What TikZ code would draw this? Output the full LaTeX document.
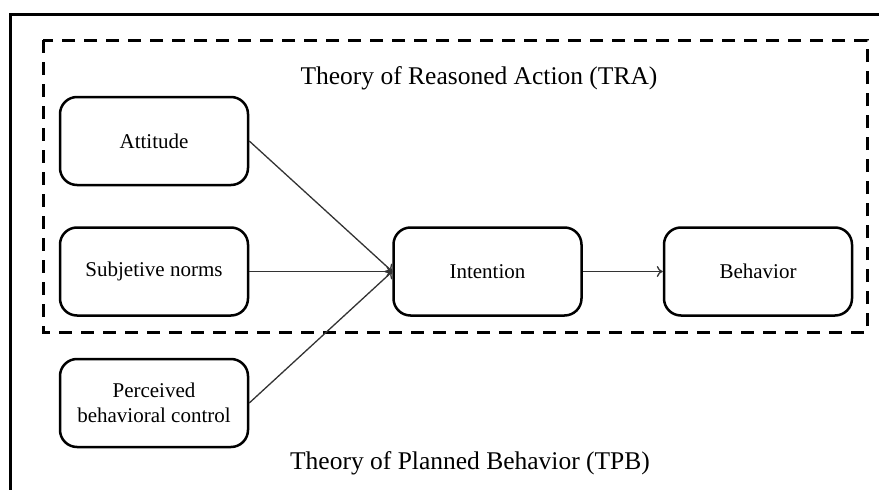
\documentclass[tikz,border=0pt]{standalone}
\usepackage{fontspec}
\setmainfont{Liberation Serif}
\usepackage{tikz}
\usetikzlibrary{arrows.meta}

\begin{document}
\begin{tikzpicture}[x=1pt,y=-1pt,>={To[length=6pt,width=11pt]}]
\tikzset{box/.style={draw,rounded corners=17pt,line width=2.5pt,minimum width=188pt,minimum height=88pt,align=center,font=\fontsize{21}{25}\selectfont}}
\tikzset{lbl/.style={font=\fontsize{25.5}{30}\selectfont}}
\useasboundingbox (0,0) rectangle (879,490);

% outer frame (TPB), cut by the page
\draw[line width=3pt] (10,495) -- (10,14) -- (885,14);
% dashed frame (TRA)
\draw[line width=3pt,dash pattern=on 13pt off 9pt] (43,40) rectangle (867,332);

\path (154,141) node[box] (att) {Attitude};
\path (154,271.5) node[box] (sn) {Subjetive norms};
\path (154,403) node[box] (pbc) {Perceived\\behavioral control};
\path (487.5,271.5) node[box] (int) {Intention};
\path (758,271.5) node[box] (beh) {Behavior};

\draw[->,line width=1.3pt,black!80] (att.east) -- (int.west);
\draw[->,line width=1.3pt,black!80] (sn) -- (int.west);
\draw[->,line width=1.3pt,black!80] (pbc.east) -- (int.west);
\draw[->,line width=1.3pt,black!80] (int) -- (beh);

\node[lbl] (tra) at (479,78) {Theory of Reasoned Action (TRA)};
\node[lbl] (tpb) at (470,463) {Theory of Planned Behavior (TPB)};
\end{tikzpicture}
\end{document}
